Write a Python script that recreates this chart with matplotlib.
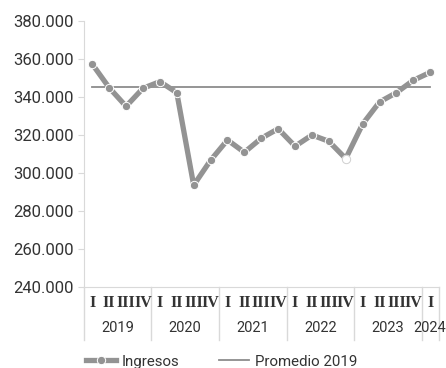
import numpy as np
import matplotlib.pyplot as plt
import matplotlib.transforms as mtransforms
from matplotlib.lines import Line2D

years = ["2019", "2020", "2021", "2022", "2023", "2024"]
quarters_per_year = [4, 4, 4, 4, 4, 1]
quarter_names = ["I", "II", "III", "IV"]

ingresos = [357.1, 344.7, 334.9, 344.4,
            347.9, 342.1, 293.4, 306.5,
            317.2, 310.7, 318.1, 323.1,
            313.9, 319.8, 316.5, 307.4,
            325.6, 337.2, 342.1, 348.6,
            352.8]

quarter_labels = [quarter_names[q] for n in quarters_per_year for q in range(n)]
promedio_2019 = np.mean(ingresos[:4])

grey = "#939393"
txt = "#333333"
axis_grey = "#d9d9d9"

plt.rcParams["font.family"] = ["Roboto", "DejaVu Sans"]

fig = plt.figure(figsize=(4.46, 3.68), dpi=100)
ax = fig.add_axes([0.188, 0.221, 0.7956, 0.7229])

x = np.arange(len(ingresos))
ax.plot(x, ingresos, color=grey, lw=3.8, marker="o", ms=6,
        mfc=grey, mec="white", mew=0.7, zorder=3)
# the 2022 IV point is drawn hollow
ax.plot(x[15], ingresos[15], marker="o", ms=6, mfc="white",
        mec="#d0d0d0", mew=0.7, zorder=4)
ax.plot([x[0], x[-1]], [promedio_2019, promedio_2019], color="#8c8c8c", lw=1.3, zorder=2)

ax.set_xlim(-0.5, len(ingresos) - 0.5)
ax.set_ylim(240, 380)
yt = np.arange(240, 381, 20)
ax.set_yticks(yt)
ax.set_yticklabels([f"{v}.000" for v in yt], fontsize=12, color=txt)
ax.tick_params(axis="y", length=4, color=axis_grey, pad=3)
ax.set_xticks([])

for s in ["top", "right"]:
    ax.spines[s].set_visible(False)
ax.spines["left"].set_color(axis_grey)
ax.spines["bottom"].set_color(axis_grey)

# two-level category axis: quarters, then years with separators
trans = mtransforms.blended_transform_factory(ax.transData, ax.transAxes)
for i, lab in enumerate(quarter_labels):
    ax.text(i, -0.061, lab, transform=trans, ha="center", va="center",
            fontsize=11.5, family="Liberation Serif", weight="bold", color=txt)

start = 0
bounds = [-0.5]
for yr, n in zip(years, quarters_per_year):
    ax.text(start + (n - 1) / 2, -0.154, yr, transform=trans, ha="center",
            va="center", fontsize=10.5, color=txt)
    start += n
    bounds.append(start - 0.5)
for b in bounds:
    ax.plot([b, b], [0, -0.2], transform=trans, color=axis_grey, lw=1, clip_on=False)

handles = [Line2D([], [], color=grey, lw=3.8, marker="o", ms=6, mfc=grey, mec="white", mew=0.7),
           Line2D([], [], color="#8c8c8c", lw=1.3)]
fig.legend(handles, ["Ingresos", "Promedio 2019"], loc="center left",
           bbox_to_anchor=(0.176, 0.017), ncol=2, frameon=False, fontsize=10.8,
           borderpad=0, handlelength=2.0, columnspacing=2.6, handletextpad=0.4,
           labelcolor=txt)

fig.savefig("out.png", dpi=100)
